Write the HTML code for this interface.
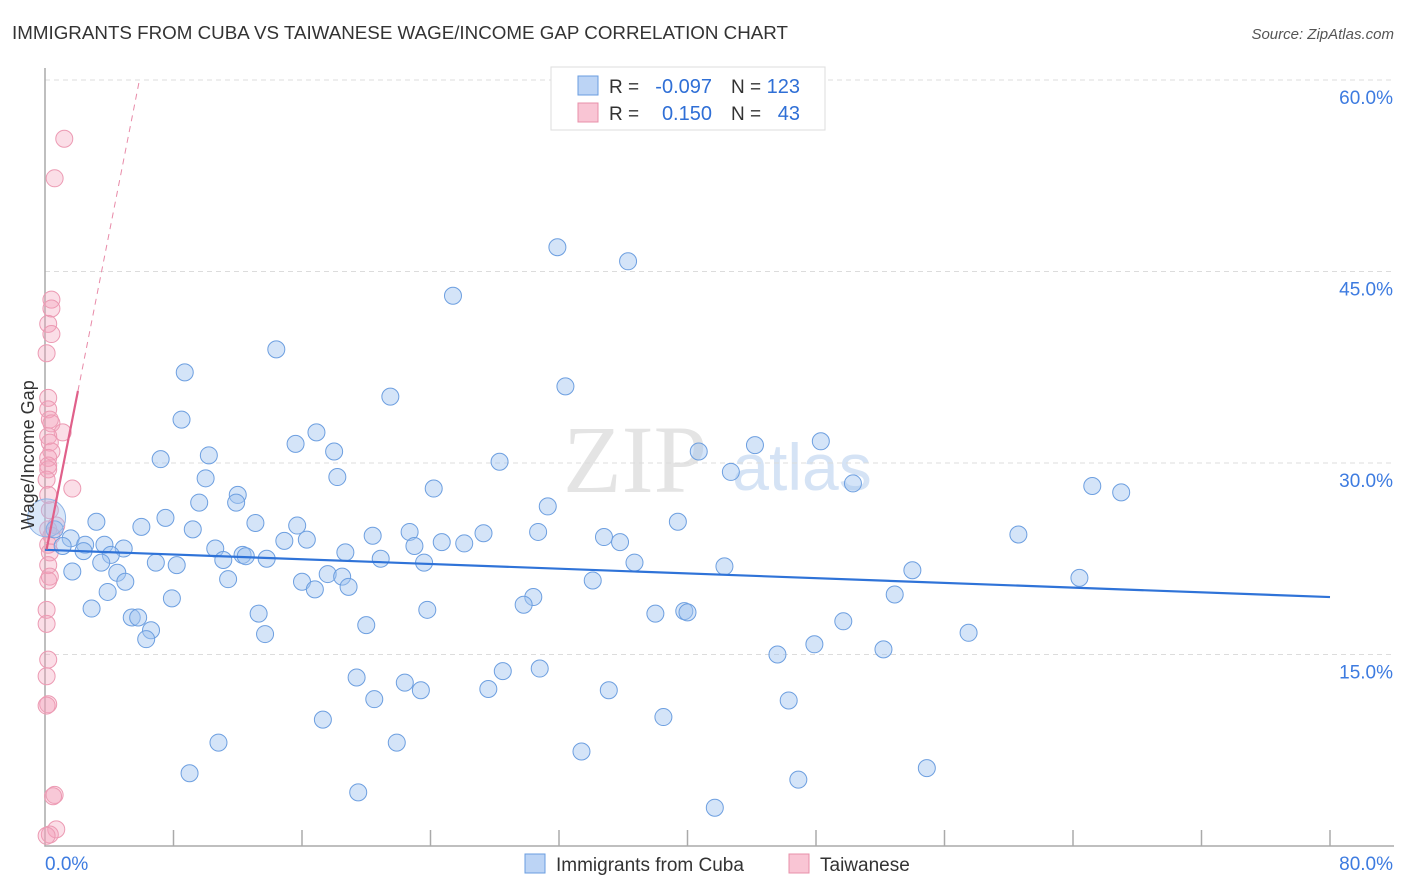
<!DOCTYPE html>
<html><head><meta charset="utf-8"><style>
body{margin:0;background:#fff;font-family:"Liberation Sans",sans-serif}
#c{position:absolute;left:0;top:0}
</style></head><body>
<svg id="c" width="1406" height="892" xmlns="http://www.w3.org/2000/svg">
<text x="12" y="39" font-size="18" fill="#333" textLength="776" lengthAdjust="spacingAndGlyphs">IMMIGRANTS FROM CUBA VS TAIWANESE WAGE/INCOME GAP CORRELATION CHART</text>
<text x="1394" y="39" font-size="15" fill="#555" text-anchor="end" font-style="italic">Source: ZipAtlas.com</text>
<text x="635" y="492" font-size="96" fill="#e4e4e4" font-family="Liberation Serif" text-anchor="middle">ZIP</text>
<text x="802" y="490" font-size="66" fill="#d5e3f5" text-anchor="middle">atlas</text>
<g id="grid"></g>
<g id="pts"></g>
<g id="lines"></g>
<text transform="translate(34,455) rotate(-90)" font-size="18" fill="#333" text-anchor="middle">Wage/Income Gap</text>
<g>
<rect x="551" y="67" width="274" height="63" fill="#fff" stroke="#ddd"/>
<rect x="578" y="76" width="20" height="19" fill="#bcd4f5" stroke="#6a9de0"/>
<rect x="578" y="103" width="20" height="19" fill="#f9c5d4" stroke="#e890aa"/>
<text x="609" y="93" font-size="19" fill="#333">R =</text>
<text x="712" y="93" font-size="20" fill="#2f6fd6" text-anchor="end">-0.097</text>
<text x="731" y="93" font-size="19" fill="#333">N =</text>
<text x="800" y="93" font-size="20" fill="#2f6fd6" text-anchor="end">123</text>
<text x="609" y="120" font-size="19" fill="#333">R =</text>
<text x="712" y="120" font-size="20" fill="#2f6fd6" text-anchor="end">0.150</text>
<text x="731" y="120" font-size="19" fill="#333">N =</text>
<text x="800" y="120" font-size="20" fill="#2f6fd6" text-anchor="end">43</text>
</g>
<g>
<rect x="525" y="854" width="20" height="19" fill="#bcd4f5" stroke="#6a9de0"/>
<text x="556" y="871" font-size="19" fill="#333">Immigrants from Cuba</text>
<rect x="789" y="854" width="20" height="19" fill="#f9c5d4" stroke="#e890aa"/>
<text x="820" y="871" font-size="19" fill="#333">Taiwanese</text>
</g>
</svg>
<script>
const blueX=[31.9,36.3,25.4,14.4,8.7,32.4,21.5,8.5,16.9,48.3,44.2,15.6,18.0,10.2,7.2,40.7,28.3,42.7,18.2,10.0,50.3,65.2,67.0,24.2,12.0,11.9,9.6,31.3,7.5,3.2,13.1,39.4,15.7,6.0,9.2,22.7,30.7,27.3,60.6,20.4,34.8,16.3,14.9,24.7,26.1,35.8,0.6,1.6,1.1,2.5,3.7,4.9,23.0,10.6,2.4,4.1,18.7,12.3,12.5,11.1,13.8,20.9,3.5,6.9,8.2,23.6,36.7,42.3,1.7,4.5,54.0,17.6,18.5,11.4,5.0,16.0,34.1,64.4,18.9,16.8,3.9,52.9,30.4,7.9,29.8,2.9,23.8,13.3,38.0,39.8,40.0,5.4,5.8,49.7,20.0,6.6,57.5,13.7,6.3,47.9,52.2,45.6,30.8,28.5,19.4,22.4,23.4,27.6,35.1,20.5,46.3,17.3,38.5,10.8,21.9,33.4,54.9,9.0,46.9,19.5,41.7];
const blueY=[46.9,45.8,43.1,38.9,37.1,36.0,35.2,33.4,32.4,31.7,31.4,31.5,30.9,30.6,30.3,30.9,30.1,29.3,28.9,28.8,28.4,28.2,27.7,28.0,27.5,26.9,26.9,26.6,25.7,25.4,25.3,25.4,25.1,25.0,24.8,24.6,24.6,24.5,24.4,24.3,24.2,24.0,23.9,23.8,23.7,23.8,24.8,24.1,23.5,23.6,23.6,23.3,23.5,23.3,23.1,22.8,23.0,22.8,22.7,22.4,22.5,22.5,22.2,22.2,22.0,22.2,22.2,21.9,21.5,21.4,21.6,21.3,21.1,20.9,20.7,20.7,20.8,21.0,20.3,20.1,19.9,19.7,19.5,19.4,18.9,18.6,18.5,18.2,18.2,18.4,18.3,17.9,17.9,17.6,17.3,16.9,16.7,16.6,16.2,15.8,15.4,15.0,13.9,13.7,13.2,12.8,12.2,12.3,12.2,11.5,11.4,9.9,10.1,8.1,8.1,7.4,6.1,5.7,5.2,4.2,3.0];
const pinkX=[1.2,0.6,0.4,0.4,0.2,0.4,0.1,0.2,0.2,0.3,0.4,1.1,0.2,0.3,0.4,0.2,0.2,1.7,0.2,0.1,0.2,0.3,0.7,0.2,0.4,0.2,0.3,0.2,0.3,0.2,0.1,0.1,0.2,0.1,0.2,0.1,0.6,0.5,0.7,0.3,0.1];
const pinkY=[55.4,52.3,42.8,42.1,40.9,40.1,38.6,35.1,34.2,33.4,33.1,32.4,32.1,31.6,30.9,30.4,29.8,28.0,29.5,28.7,27.5,26.3,25.1,24.8,24.3,23.6,23.0,22.0,21.1,20.8,18.5,17.4,14.6,13.3,11.1,11.0,4.0,3.9,1.3,0.9,0.8];
const bigBlue=[0.1,25.7];
const yTicks=[15,30,45,60];
const xTickLabels=["0.0%","80.0%"];
const blueTrend=[23.2,19.5];
const pinkTrend=[22.6,6.36];
const X=v=>45+v/80*1285, Y=v=>846-v/60*766;
const NS="http://www.w3.org/2000/svg";
function mk(t,a,p){const e=document.createElementNS(NS,t);for(const k in a)e.setAttribute(k,a[k]);p.appendChild(e);return e;}
const grid=document.getElementById('grid'),pts=document.getElementById('pts'),lines=document.getElementById('lines');
yTicks.forEach(v=>{
 const l=mk('line',{x1:45,x2:1394,y1:Y(v),y2:Y(v),stroke:'#dcdcdc','stroke-dasharray':'5,4'},grid);
 
 
 const t=mk('text',{x:1393,y:Y(v)+24,'font-size':19,fill:'#3d7be0','text-anchor':'end'},grid);
 t.textContent=v.toFixed(1)+'%';
 
 
});
const ax=mk('path',{d:'M45,68 V846 H1394',fill:'none',stroke:'#aaa','stroke-width':1.5},grid);


for(let i=1;i<=10;i++){const tk=mk('line',{x1:X(i*8),x2:X(i*8),y1:830,y2:846,stroke:'#aaa','stroke-width':1.5},grid);
 
 }
[[0,'start',45],[80,'end',1393]].forEach((d,i)=>{const t=mk('text',{x:d[2],y:870,'font-size':19,fill:'#3d7be0','text-anchor':d[1]},grid);t.textContent=xTickLabels[i];
 
 });
pinkX.forEach((x,i)=>{const c=mk('circle',{cx:X(x),cy:Y(pinkY[i]),r:8.5,fill:'rgba(244,160,185,0.35)',stroke:'#ec9ab3','stroke-width':1},pts);
 
 });
blueX.forEach((x,i)=>{const c=mk('circle',{cx:X(x),cy:Y(blueY[i]),r:8.5,fill:'rgba(160,195,240,0.45)',stroke:'#6d9fe0','stroke-width':1},pts);
 
 });
const bb=mk('circle',{cx:X(bigBlue[0]),cy:Y(bigBlue[1]),r:19,fill:'rgba(160,195,240,0.4)',stroke:'#8fb4e6','stroke-width':1},pts);


const bl=mk('line',{x1:X(0),y1:Y(blueTrend[0]),x2:X(80),y2:Y(blueTrend[1]),stroke:'#2f73d8','stroke-width':2.2},lines);


const py=x=>pinkTrend[0]+pinkTrend[1]*x;
const xEnd=(60-pinkTrend[0])/pinkTrend[1];
const pd=mk('line',{x1:X(2.05),y1:Y(py(2.05)),x2:X(xEnd),y2:Y(60),stroke:'#e88aa8','stroke-width':1,'stroke-dasharray':'6,5'},lines);


const ps=mk('line',{x1:X(0.1),y1:Y(py(0.1)),x2:X(2.05),y2:Y(py(2.05)),stroke:'#e0608a','stroke-width':2.2},lines);


</script>
</body></html>
